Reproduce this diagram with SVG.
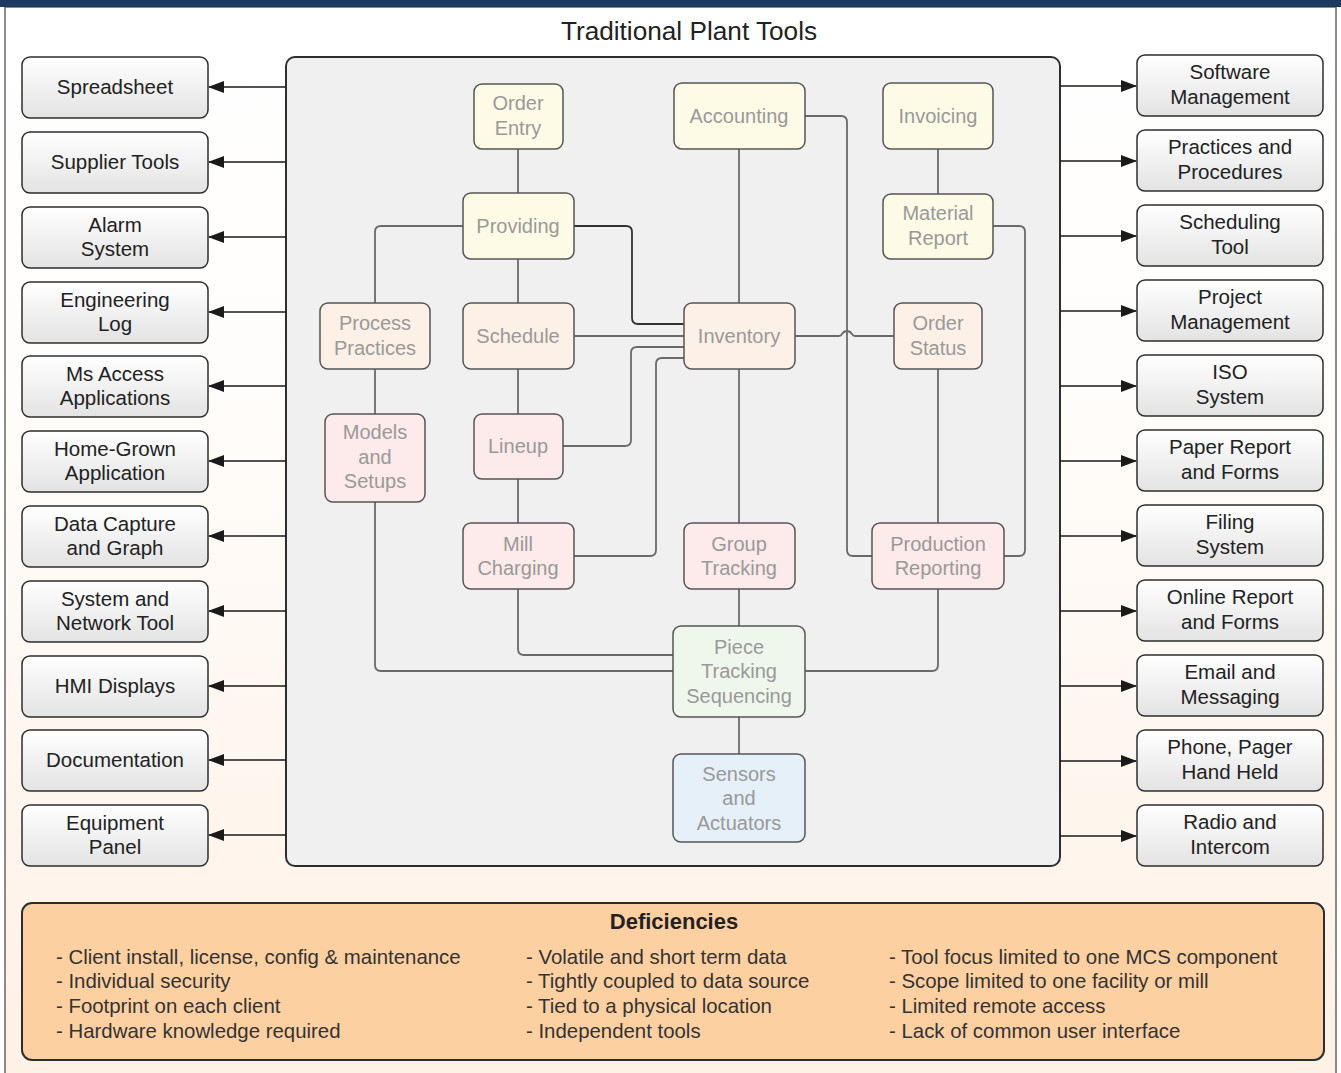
<svg xmlns="http://www.w3.org/2000/svg" width="1341" height="1073" viewBox="0 0 1341 1073">
<defs>
<linearGradient id="bg" x1="0" y1="0" x2="0" y2="1">
<stop offset="0" stop-color="#ffffff"/>
<stop offset="0.35" stop-color="#fffdfb"/>
<stop offset="1" stop-color="#fef1e5"/>
</linearGradient>
<linearGradient id="tool" x1="0" y1="0" x2="0" y2="1">
<stop offset="0" stop-color="#ffffff"/>
<stop offset="1" stop-color="#e3e3e3"/>
</linearGradient>
<marker id="ah" viewBox="0 0 16 12" refX="15" refY="6" markerWidth="16" markerHeight="12" markerUnits="userSpaceOnUse" orient="auto">
<path d="M0,0 L16,6 L0,12 Z" fill="#1a1a1a"/>
</marker>
<style>
.tool{fill:url(#tool);stroke:#2e2e2e;stroke-width:1.5}
.tt{font-family:"Liberation Sans",Arial,sans-serif;font-size:20.5px;fill:#222;text-anchor:middle}
.nd{stroke:#555;stroke-width:1.5}
.nt{font-family:"Liberation Sans",Arial,sans-serif;font-size:20px;fill:#999;text-anchor:middle}
.y{fill:#fdfbe6}.p{fill:#fdf0e6}.k{fill:#fdeaea}.g{fill:#eff7ec}.b{fill:#e6f0f8}
.arr{stroke:#1a1a1a;stroke-width:1.5;fill:none;marker-end:url(#ah)}
.c{stroke:#6a6a6a;stroke-width:1.8;fill:none}
.cd{stroke:#333;stroke-width:1.8;fill:none}
.dt{font-family:"Liberation Sans",Arial,sans-serif;font-size:20.4px;fill:#333}
</style>
</defs>
<rect x="0" y="0" width="1341" height="1073" fill="#ffffff"/>
<rect x="5" y="7" width="1331" height="1070" fill="url(#bg)" stroke="#666" stroke-width="1.5"/>
<rect x="0" y="0" width="1341" height="7" fill="#1c3960"/>
<text x="689" y="40" font-family="Liberation Sans,Arial,sans-serif" font-size="26.2" fill="#222" text-anchor="middle">Traditional Plant Tools</text>

<g id="panel"><rect x="286" y="57" width="774" height="809" rx="9" fill="#f0f0f0" stroke="#2e2e2e" stroke-width="2"/></g>

<g id="connectors">
<path class="arr" d="M286,87 H209"/>
<path class="arr" d="M286,162 H209"/>
<path class="arr" d="M286,237 H209"/>
<path class="arr" d="M286,312 H209"/>
<path class="arr" d="M286,386 H209"/>
<path class="arr" d="M286,461 H209"/>
<path class="arr" d="M286,536 H209"/>
<path class="arr" d="M286,611 H209"/>
<path class="arr" d="M286,686 H209"/>
<path class="arr" d="M286,760 H209"/>
<path class="arr" d="M286,835 H209"/>
<path class="arr" d="M1060,86 H1136"/>
<path class="arr" d="M1060,161 H1136"/>
<path class="arr" d="M1060,236 H1136"/>
<path class="arr" d="M1060,311 H1136"/>
<path class="arr" d="M1060,386 H1136"/>
<path class="arr" d="M1060,461 H1136"/>
<path class="arr" d="M1060,536 H1136"/>
<path class="arr" d="M1060,611 H1136"/>
<path class="arr" d="M1060,686 H1136"/>
<path class="arr" d="M1060,761 H1136"/>
<path class="arr" d="M1060,836 H1136"/>

<path class="c" d="M518,149 V193"/>
<path class="c" d="M518,259 V303"/>
<path class="c" d="M518,369 V414"/>
<path class="c" d="M518,479 V523"/>
<path class="c" d="M518,589 V649 Q518,655 524,655 H673"/>
<path class="c" d="M463,226 H381 Q375,226 375,232 V303"/>
<path class="c" d="M375,369 V414"/>
<path class="c" d="M375,502 V665 Q375,671 381,671 H673"/>
<path class="cd" d="M574,226 H626 Q632,226 632,232 V318 Q632,324 638,324 H684"/>
<path class="c" d="M574,336 H684"/>
<path class="c" d="M563,446 H625 Q631,446 631,440 V353 Q631,347 637,347 H684"/>
<path class="c" d="M574,556 H650 Q656,556 656,550 V364 Q656,358 662,358 H684"/>
<path class="c" d="M739,149 V303"/>
<path class="c" d="M805,116 H841 Q847,116 847,122 V550 Q847,556 853,556 H872"/>
<path class="c" d="M795,336 H839 Q841,336 842,334 Q844,331 847,331 Q850,331 852,334 Q853,336 855,336 H894"/>
<path class="c" d="M739,369 V523"/>
<path class="c" d="M739,589 V626"/>
<path class="c" d="M938,149 V194"/>
<path class="c" d="M993,226 H1019 Q1025,226 1025,232 V550 Q1025,556 1019,556 H1004"/>
<path class="c" d="M938,369 V523"/>
<path class="c" d="M938,589 V665 Q938,671 932,671 H805"/>
<path class="c" d="M739,717 V754"/>
</g>

<g id="left-tools">
<g id="spreadsheet"><rect class="tool" x="22" y="57" width="186" height="61" rx="8"/><text class="tt" x="115" y="94">Spreadsheet</text></g>
<g id="supplier-tools"><rect class="tool" x="22" y="132" width="186" height="61" rx="8"/><text class="tt" x="115" y="169">Supplier Tools</text></g>
<g id="alarm-system"><rect class="tool" x="22" y="207" width="186" height="61" rx="8"/><text class="tt" x="115" y="232">Alarm</text><text class="tt" x="115" y="256">System</text></g>
<g id="engineering-log"><rect class="tool" x="22" y="282" width="186" height="61" rx="8"/><text class="tt" x="115" y="307">Engineering</text><text class="tt" x="115" y="331">Log</text></g>
<g id="ms-access"><rect class="tool" x="22" y="356" width="186" height="61" rx="8"/><text class="tt" x="115" y="381">Ms Access</text><text class="tt" x="115" y="405">Applications</text></g>
<g id="home-grown"><rect class="tool" x="22" y="431" width="186" height="61" rx="8"/><text class="tt" x="115" y="456">Home-Grown</text><text class="tt" x="115" y="480">Application</text></g>
<g id="data-capture"><rect class="tool" x="22" y="506" width="186" height="61" rx="8"/><text class="tt" x="115" y="531">Data Capture</text><text class="tt" x="115" y="555">and Graph</text></g>
<g id="system-network"><rect class="tool" x="22" y="581" width="186" height="61" rx="8"/><text class="tt" x="115" y="606">System and</text><text class="tt" x="115" y="630">Network Tool</text></g>
<g id="hmi-displays"><rect class="tool" x="22" y="656" width="186" height="61" rx="8"/><text class="tt" x="115" y="693">HMI Displays</text></g>
<g id="documentation"><rect class="tool" x="22" y="730" width="186" height="61" rx="8"/><text class="tt" x="115" y="767">Documentation</text></g>
<g id="equipment-panel"><rect class="tool" x="22" y="805" width="186" height="61" rx="8"/><text class="tt" x="115" y="830">Equipment</text><text class="tt" x="115" y="854">Panel</text></g>
</g>

<g id="right-tools">
<g id="software-management"><rect class="tool" x="1137" y="55" width="186" height="61" rx="8"/><text class="tt" x="1230" y="79">Software</text><text class="tt" x="1230" y="104">Management</text></g>
<g id="practices-procedures"><rect class="tool" x="1137" y="130" width="186" height="61" rx="8"/><text class="tt" x="1230" y="154">Practices and</text><text class="tt" x="1230" y="179">Procedures</text></g>
<g id="scheduling-tool"><rect class="tool" x="1137" y="205" width="186" height="61" rx="8"/><text class="tt" x="1230" y="229">Scheduling</text><text class="tt" x="1230" y="254">Tool</text></g>
<g id="project-management"><rect class="tool" x="1137" y="280" width="186" height="61" rx="8"/><text class="tt" x="1230" y="304">Project</text><text class="tt" x="1230" y="329">Management</text></g>
<g id="iso-system"><rect class="tool" x="1137" y="355" width="186" height="61" rx="8"/><text class="tt" x="1230" y="379">ISO</text><text class="tt" x="1230" y="404">System</text></g>
<g id="paper-report"><rect class="tool" x="1137" y="430" width="186" height="61" rx="8"/><text class="tt" x="1230" y="454">Paper Report</text><text class="tt" x="1230" y="479">and Forms</text></g>
<g id="filing-system"><rect class="tool" x="1137" y="505" width="186" height="61" rx="8"/><text class="tt" x="1230" y="529">Filing</text><text class="tt" x="1230" y="554">System</text></g>
<g id="online-report"><rect class="tool" x="1137" y="580" width="186" height="61" rx="8"/><text class="tt" x="1230" y="604">Online Report</text><text class="tt" x="1230" y="629">and Forms</text></g>
<g id="email-messaging"><rect class="tool" x="1137" y="655" width="186" height="61" rx="8"/><text class="tt" x="1230" y="679">Email and</text><text class="tt" x="1230" y="704">Messaging</text></g>
<g id="phone-pager"><rect class="tool" x="1137" y="730" width="186" height="61" rx="8"/><text class="tt" x="1230" y="754">Phone, Pager</text><text class="tt" x="1230" y="779">Hand Held</text></g>
<g id="radio-intercom"><rect class="tool" x="1137" y="805" width="186" height="61" rx="8"/><text class="tt" x="1230" y="829">Radio and</text><text class="tt" x="1230" y="854">Intercom</text></g>
</g>

<g id="inner-nodes">
<g id="order-entry"><rect class="nd y" x="474" y="84" width="89" height="65" rx="8"/><text class="nt" x="518" y="110">Order</text><text class="nt" x="518" y="135">Entry</text></g>
<g id="accounting"><rect class="nd y" x="674" y="83" width="131" height="66" rx="8"/><text class="nt" x="739" y="123">Accounting</text></g>
<g id="invoicing"><rect class="nd y" x="883" y="83" width="110" height="66" rx="8"/><text class="nt" x="938" y="123">Invoicing</text></g>
<g id="providing"><rect class="nd y" x="463" y="193" width="111" height="66" rx="8"/><text class="nt" x="518" y="233">Providing</text></g>
<g id="material-report"><rect class="nd y" x="883" y="194" width="110" height="65" rx="8"/><text class="nt" x="938" y="220">Material</text><text class="nt" x="938" y="245">Report</text></g>
<g id="process-practices"><rect class="nd p" x="320" y="303" width="110" height="66" rx="8"/><text class="nt" x="375" y="330">Process</text><text class="nt" x="375" y="355">Practices</text></g>
<g id="schedule"><rect class="nd p" x="463" y="303" width="111" height="66" rx="8"/><text class="nt" x="518" y="343">Schedule</text></g>
<g id="inventory"><rect class="nd p" x="684" y="303" width="111" height="66" rx="8"/><text class="nt" x="739" y="343">Inventory</text></g>
<g id="order-status"><rect class="nd p" x="894" y="303" width="88" height="66" rx="8"/><text class="nt" x="938" y="330">Order</text><text class="nt" x="938" y="355">Status</text></g>
<g id="models-setups"><rect class="nd k" x="325" y="414" width="100" height="88" rx="8"/><text class="nt" x="375" y="439">Models</text><text class="nt" x="375" y="464">and</text><text class="nt" x="375" y="488">Setups</text></g>
<g id="lineup"><rect class="nd k" x="474" y="414" width="89" height="65" rx="8"/><text class="nt" x="518" y="453">Lineup</text></g>
<g id="mill-charging"><rect class="nd k" x="463" y="523" width="111" height="66" rx="8"/><text class="nt" x="518" y="551">Mill</text><text class="nt" x="518" y="575">Charging</text></g>
<g id="group-tracking"><rect class="nd k" x="684" y="523" width="111" height="66" rx="8"/><text class="nt" x="739" y="551">Group</text><text class="nt" x="739" y="575">Tracking</text></g>
<g id="production-reporting"><rect class="nd k" x="872" y="523" width="132" height="66" rx="8"/><text class="nt" x="938" y="551">Production</text><text class="nt" x="938" y="575">Reporting</text></g>
<g id="piece-tracking"><rect class="nd g" x="673" y="626" width="132" height="91" rx="8"/><text class="nt" x="739" y="654">Piece</text><text class="nt" x="739" y="678">Tracking</text><text class="nt" x="739" y="703">Sequencing</text></g>
<g id="sensors-actuators"><rect class="nd b" x="673" y="754" width="132" height="88" rx="8"/><text class="nt" x="739" y="781">Sensors</text><text class="nt" x="739" y="805">and</text><text class="nt" x="739" y="830">Actuators</text></g>
</g>

<g id="deficiencies">
<rect x="22" y="903" width="1302" height="157" rx="10" fill="#fdd0a2" stroke="#2e2e2e" stroke-width="2"/>
<text x="674" y="929" font-family="Liberation Sans,Arial,sans-serif" font-size="22" font-weight="bold" fill="#222" text-anchor="middle">Deficiencies</text>
<text class="dt" x="56" y="964">- Client install, license, config &amp; maintenance</text>
<text class="dt" x="56" y="988">- Individual security</text>
<text class="dt" x="56" y="1013">- Footprint on each client</text>
<text class="dt" x="56" y="1038">- Hardware knowledge required</text>
<text class="dt" x="526" y="964">- Volatile and short term data</text>
<text class="dt" x="526" y="988">- Tightly coupled to data source</text>
<text class="dt" x="526" y="1013">- Tied to a physical location</text>
<text class="dt" x="526" y="1038">- Independent tools</text>
<text class="dt" x="889" y="964">- Tool focus limited to one MCS component</text>
<text class="dt" x="889" y="988">- Scope limited to one facility or mill</text>
<text class="dt" x="889" y="1013">- Limited remote access</text>
<text class="dt" x="889" y="1038">- Lack of common user interface</text>
</g>
</svg>
